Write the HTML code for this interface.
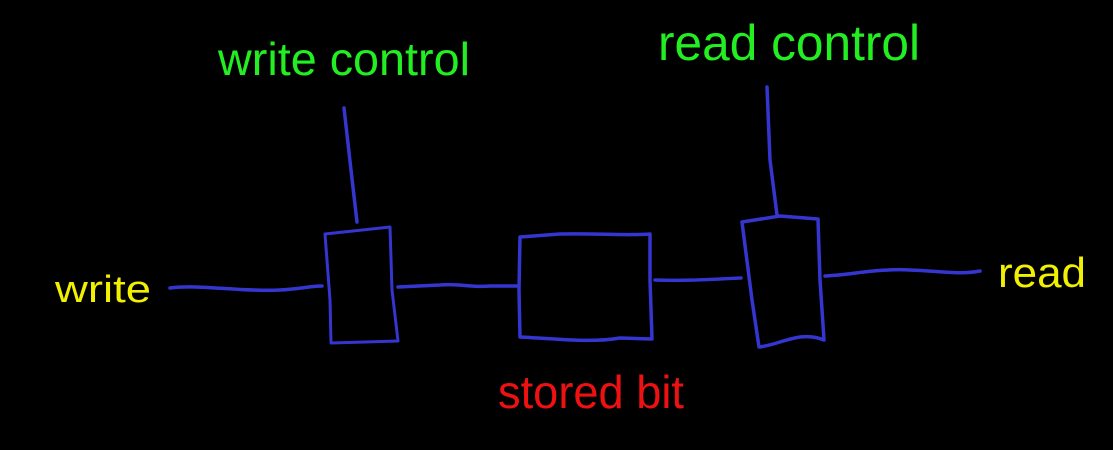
<!DOCTYPE html>
<html><head><style>html,body{margin:0;padding:0;background:#000;width:1113px;height:450px;overflow:hidden}</style></head>
<body>
<svg width="1113" height="450" viewBox="0 0 1113 450" xmlns="http://www.w3.org/2000/svg">
<rect width="1113" height="450" fill="#000"/>
<g fill="none" stroke="#3535d0" stroke-width="3.5" stroke-linecap="round" stroke-linejoin="round">
<path d="M344 108 L351 170 L357 222"/>
<path d="M767 87 L770 160 L777 215"/>
<path d="M325 234 L390 227 L392 290 L398 341 L331 343 L330 300 L325 234" stroke-width="3"/>
<path d="M170 288 C200 284 240 292 280 290 C300 289 310 286 322 286"/>
<path d="M398 287 L440 285 C460 283 470 288 490 286 L518 286"/>
<path d="M520 237 L560 234 C600 233 620 236 650 234 L650 280 L652 339 L620 338 C590 343 560 339 520 337 L519 290 Z"/>
<path d="M655 280 C680 281 700 280 741 278"/>
<path d="M742 222 L780 216 L818 219 L820 280 L824 340 C800 330 780 345 759 347 L752 300 Z"/>
<path d="M825 276 C850 275 880 268 910 270 C940 271 960 275 980 271"/>
</g>
<g font-family="Liberation Sans Narrow, Liberation Sans, sans-serif">
<text x="218" y="75" font-size="46" fill="#22ee22" textLength="252" lengthAdjust="spacingAndGlyphs">write control</text>
<text x="658" y="60" font-size="50" fill="#22ee22" textLength="262" lengthAdjust="spacingAndGlyphs">read control</text>
<text x="55" y="302" font-size="38" fill="#f0f000" textLength="96" lengthAdjust="spacingAndGlyphs">write</text>
<text x="998" y="287" font-size="42" fill="#f0f000" textLength="88" lengthAdjust="spacingAndGlyphs">read</text>
<text x="498" y="408" font-size="46" fill="#ee1111" textLength="186" lengthAdjust="spacingAndGlyphs">stored bit</text>
</g>
</svg>
</body></html>
